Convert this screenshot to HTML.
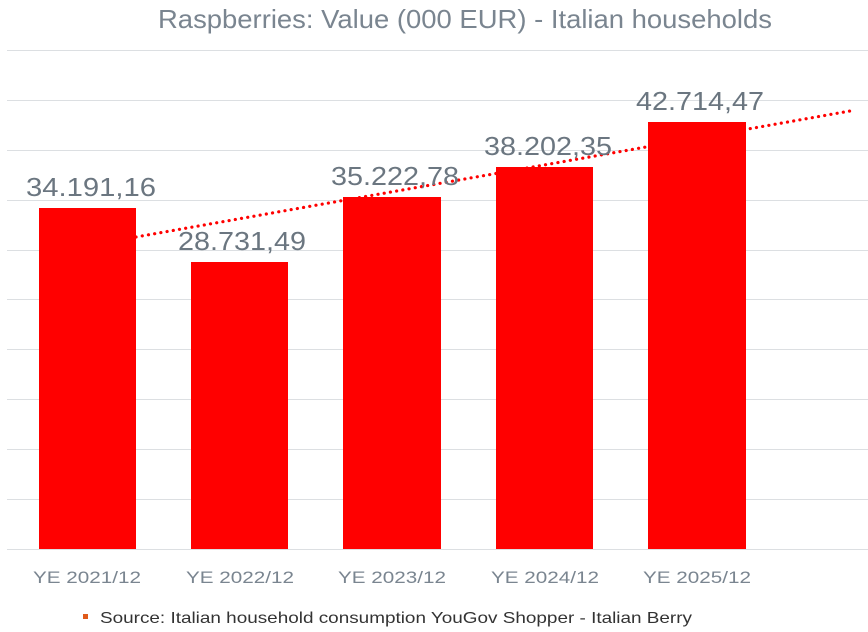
<!DOCTYPE html>
<html><head><meta charset="utf-8"><style>
html,body{margin:0;padding:0;background:#fff;}
svg{display:block;font-family:"Liberation Sans",sans-serif;}
</style></head><body>
<svg width="868" height="632" viewBox="0 0 868 632" xmlns="http://www.w3.org/2000/svg">
<rect width="868" height="632" fill="#fff"/>
<text x="158" y="28" font-size="26" fill="#7a8590" textLength="614" lengthAdjust="spacingAndGlyphs">Raspberries: Value (000 EUR) - Italian households</text>
<g stroke="#dcdfe2" stroke-width="1">
<line x1="7" y1="50.5" x2="868" y2="50.5"/>
<line x1="7" y1="100.5" x2="868" y2="100.5"/>
<line x1="7" y1="150.5" x2="868" y2="150.5"/>
<line x1="7" y1="200.5" x2="868" y2="200.5"/>
<line x1="7" y1="250.5" x2="868" y2="250.5"/>
<line x1="7" y1="299.5" x2="868" y2="299.5"/>
<line x1="7" y1="349.5" x2="868" y2="349.5"/>
<line x1="7" y1="399.5" x2="868" y2="399.5"/>
<line x1="7" y1="449.5" x2="868" y2="449.5"/>
<line x1="7" y1="499.5" x2="868" y2="499.5"/>
<line x1="7" y1="549.5" x2="868" y2="549.5"/>
</g>
<line x1="136" y1="237" x2="850" y2="111" stroke="#ff0000" stroke-width="3.2" stroke-dasharray="0.1 6.2" stroke-linecap="round"/>
<g fill="#ff0000">
<rect x="39" y="208" width="97" height="341"/>
<rect x="191" y="262" width="97" height="287"/>
<rect x="343" y="197" width="98" height="352"/>
<rect x="496" y="167" width="97" height="382"/>
<rect x="648" y="122" width="98" height="427"/>
</g>
<g font-size="26" fill="#6b7680">
<text x="26" y="196" textLength="130" lengthAdjust="spacingAndGlyphs">34.191,16</text>
<text x="178" y="250" textLength="128" lengthAdjust="spacingAndGlyphs">28.731,49</text>
<text x="331" y="185" textLength="128" lengthAdjust="spacingAndGlyphs">35.222,78</text>
<text x="484" y="155" textLength="128" lengthAdjust="spacingAndGlyphs">38.202,35</text>
<text x="636" y="110" textLength="128" lengthAdjust="spacingAndGlyphs">42.714,47</text>
</g>
<g font-size="17" fill="#7a8590">
<text x="33" y="583" textLength="108" lengthAdjust="spacingAndGlyphs">YE 2021/12</text>
<text x="186" y="583" textLength="108" lengthAdjust="spacingAndGlyphs">YE 2022/12</text>
<text x="338" y="583" textLength="108" lengthAdjust="spacingAndGlyphs">YE 2023/12</text>
<text x="491" y="583" textLength="108" lengthAdjust="spacingAndGlyphs">YE 2024/12</text>
<text x="643" y="583" textLength="108" lengthAdjust="spacingAndGlyphs">YE 2025/12</text>
</g>
<rect x="83" y="614" width="5" height="5" fill="#e05a1a"/>
<text x="100" y="623" font-size="16" fill="#333" textLength="592" lengthAdjust="spacingAndGlyphs">Source: Italian household consumption YouGov Shopper - Italian Berry</text>
</svg>
</body></html>
